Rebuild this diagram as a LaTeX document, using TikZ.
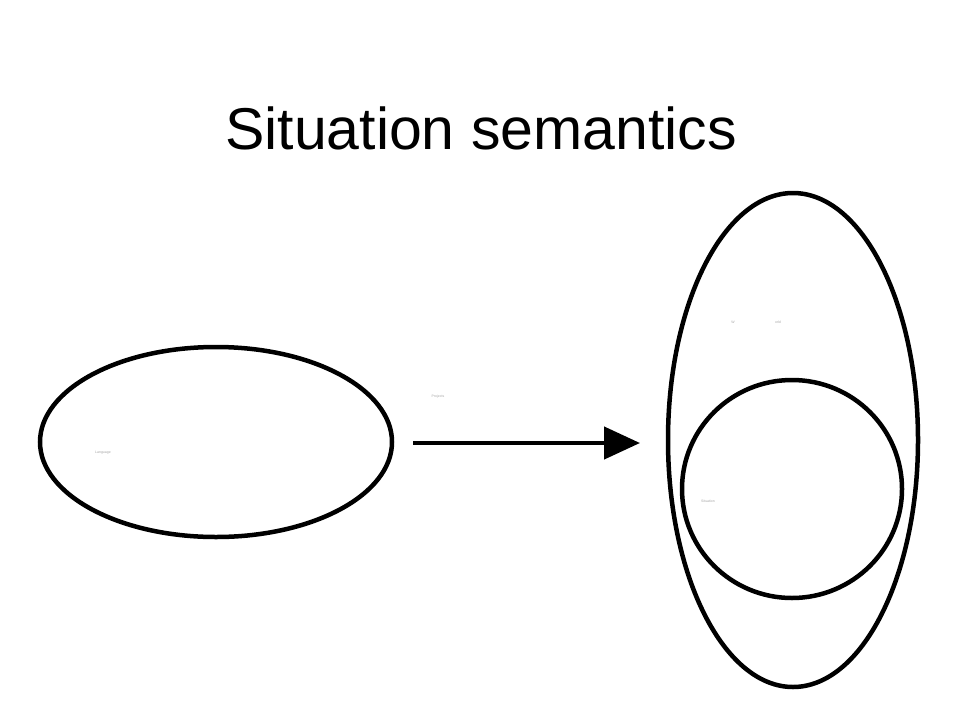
\documentclass[tikz,border=0pt]{standalone}
\usepackage{fontspec}
\setmainfont{Liberation Sans}
\usetikzlibrary{arrows.meta}
\begin{document}
\begin{tikzpicture}[x=1pt,y=-1pt,
  shapeline/.style={draw=black,line width=4.5pt},
  tiny/.style={text=black!35,font=\fontsize{3.5}{4}\selectfont,inner sep=0pt}]
\useasboundingbox (0,0) rectangle (960,720);
\node (title) at (481,128) {\fontsize{59}{70}\selectfont Situation semantics};
\draw[shapeline] (216,442) ellipse [x radius=176,y radius=95];
\draw[shapeline] (793,440) ellipse [x radius=125,y radius=247];
\draw[shapeline] (792,489) ellipse [x radius=110,y radius=109];
\coordinate (as) at (413,443);
\coordinate (ae) at (640,443);
\draw[line width=4.5pt,-{Triangle[length=36pt,width=32pt]}] (as) -- (ae);
\node[tiny] (lang) at (103,453) {Language};
\node[tiny] (proj) at (438,397) {Projects};
\node[tiny] (w) at (733,322) {W};
\node[tiny] (orld) at (778,322) {orld};
\node[tiny] (sit) at (708,501) {Situation};
\end{tikzpicture}
\end{document}
